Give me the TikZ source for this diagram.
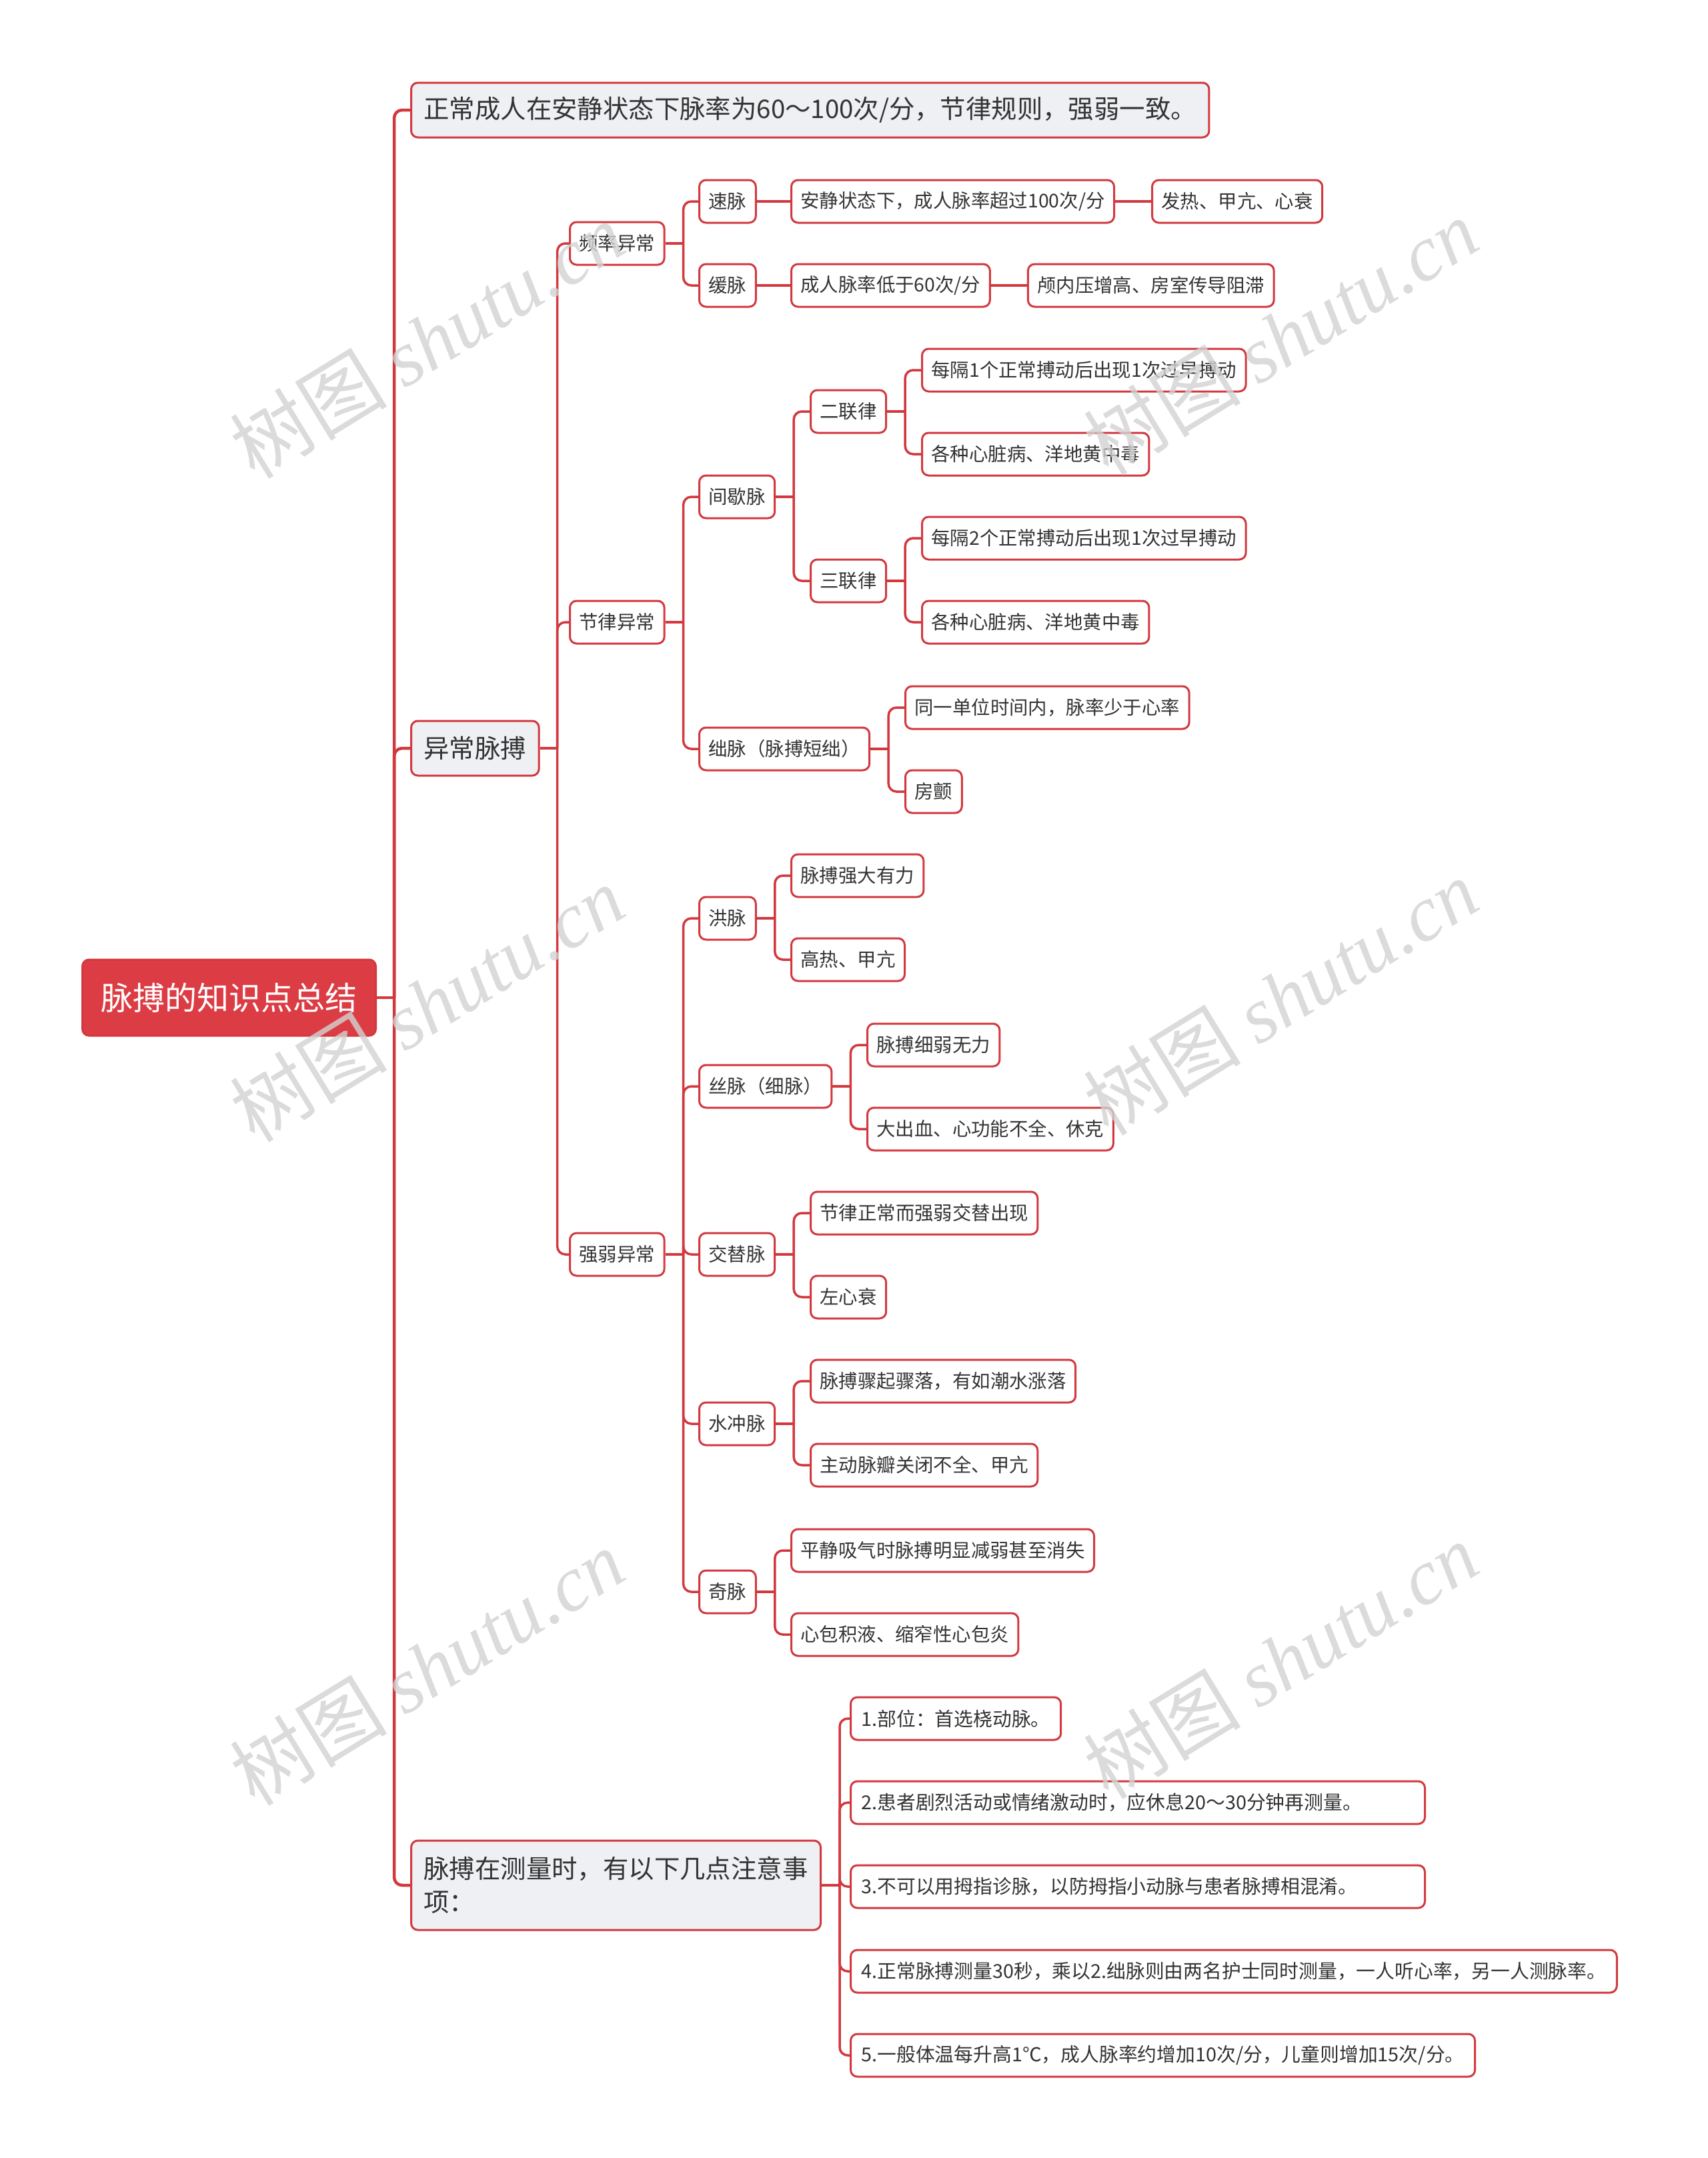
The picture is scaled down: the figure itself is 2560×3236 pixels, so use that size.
\documentclass[tikz,border=0pt]{standalone}
\usepackage{fontspec}
\setmainfont{Noto Sans CJK SC}
\newfontfamily\wmfont{Liberation Serif}
\usetikzlibrary{positioning}

\definecolor{linkred}{HTML}{D2393F}
\definecolor{rootred}{HTML}{DC3D45}
\definecolor{topicgray}{HTML}{EEF0F3}
\definecolor{inkgray}{HTML}{333333}

\tikzset{
  boxbase/.style={draw=linkred, line width=3pt, rounded corners=10pt,
    text=inkgray, anchor=west, inner ysep=0pt},
  rootbox/.style={boxbase, fill=rootred, text=white,
    font=\fontsize{48}{56}\selectfont, inner xsep=28pt, minimum height=114pt},
  topicbox/.style={boxbase, fill=topicgray,
    font=\fontsize{38.4}{50}\selectfont, inner xsep=19pt, minimum height=82pt},
  subbox/.style={boxbase, fill=white,
    font=\fontsize{28.4}{34}\selectfont, inner xsep=14pt, minimum height=64pt},
  notebox/.style={subbox, font=\fontsize{28.8}{34}\selectfont, inner xsep=16pt},
  link/.style={draw=linkred, line width=3.5pt, rounded corners=12pt},
  mainlink/.style={link, line width=4.5pt},
  wmark/.style={text=gray!35, text opacity=0.8, rotate=31.5,
    font=\fontsize{118}{118}\selectfont}
}

\begin{document}
\begin{tikzpicture}[x=1pt, y=-1pt]
  \useasboundingbox (0,0) rectangle (2560,3236);

  % Root and first level
  \node[rootbox] (root) at (122,1496) {脉搏的知识点总结};
  \node[topicbox] (t1) at (615,165) {正常成人在安静状态下脉率为60～100次/分，节律规则，强弱一致。};
  \node[topicbox] (t2) at (615,1122) {异常脉搏};
  \node[topicbox, align=left, minimum height=134pt] (t3) at (615,2827)
    {脉搏在测量时，有以下几点注意事\\项：};

  \coordinate (b0) at ([xshift=26pt]root.east);
  \draw[mainlink] (root) -- (b0);
  \foreach \c in {t1,t2,t3}
    \draw[mainlink] (b0) |- (\c.west);

  % Abnormal pulse
  \node[subbox] (a1) at (853,365) {频率异常};
  \node[subbox] (a2) at (853,933) {节律异常};
  \node[subbox] (a3) at (853,1881) {强弱异常};

  \coordinate (b1) at ([xshift=26pt]t2.east);
  \draw[link] (t2) -- (b1);
  \foreach \c in {a1,a2,a3}
    \draw[link] (b1) |- (\c.west);

  % Rate
  \node[subbox] (s1) at (1047,302) {速脉};
  \node[subbox] (s2) at (1047,428) {缓脉};
  \node[subbox] (d1) at (1185,302) {安静状态下，成人脉率超过100次/分};
  \node[subbox, right=54pt of d1] (e1) {发热、甲亢、心衰};
  \node[subbox] (d2) at (1185,428) {成人脉率低于60次/分};
  \node[subbox, right=54pt of d2] (e2) {颅内压增高、房室传导阻滞};

  \coordinate (ba1) at ([xshift=27pt]a1.east);
  \draw[link] (a1) -- (ba1);
  \foreach \c in {s1,s2}
    \draw[link] (ba1) |- (\c.west);
  \draw[link] (s1) -- (d1);
  \draw[link] (d1) -- (e1);
  \draw[link] (s2) -- (d2);
  \draw[link] (d2) -- (e2);

  % Rhythm
  \node[subbox] (j1) at (1047,745) {间歇脉};
  \node[subbox] (j2) at (1047,1123) {绌脉（脉搏短绌）};
  \node[subbox] (k1) at (1214,617) {二联律};
  \node[subbox] (k2) at (1214,871) {三联律};
  \node[subbox] (m1) at (1381,555) {每隔1个正常搏动后出现1次过早搏动};
  \node[subbox] (m2) at (1381,681) {各种心脏病、洋地黄中毒};
  \node[subbox] (m3) at (1381,807) {每隔2个正常搏动后出现1次过早搏动};
  \node[subbox] (m4) at (1381,933) {各种心脏病、洋地黄中毒};
  \node[subbox] (m5) at (1356,1061) {同一单位时间内，脉率少于心率};
  \node[subbox] (m6) at (1356,1187) {房颤};

  \coordinate (ba2) at ([xshift=27pt]a2.east);
  \draw[link] (a2) -- (ba2);
  \foreach \c in {j1,j2}
    \draw[link] (ba2) |- (\c.west);
  \coordinate (bj1) at ([xshift=27pt]j1.east);
  \draw[link] (j1) -- (bj1);
  \foreach \c in {k1,k2}
    \draw[link] (bj1) |- (\c.west);
  \coordinate (bk1) at ([xshift=27pt]k1.east);
  \draw[link] (k1) -- (bk1);
  \foreach \c in {m1,m2}
    \draw[link] (bk1) |- (\c.west);
  \coordinate (bk2) at ([xshift=27pt]k2.east);
  \draw[link] (k2) -- (bk2);
  \foreach \c in {m3,m4}
    \draw[link] (bk2) |- (\c.west);
  \coordinate (bj2) at ([xshift=27pt]j2.east);
  \draw[link] (j2) -- (bj2);
  \foreach \c in {m5,m6}
    \draw[link] (bj2) |- (\c.west);

  % Strength
  \node[subbox] (h1) at (1047,1377) {洪脉};
  \node[subbox] (h2) at (1047,1629) {丝脉（细脉）};
  \node[subbox] (h3) at (1047,1881) {交替脉};
  \node[subbox] (h4) at (1047,2135) {水冲脉};
  \node[subbox] (h5) at (1047,2387) {奇脉};
  \node[subbox] (p1) at (1185,1313) {脉搏强大有力};
  \node[subbox] (p2) at (1185,1439) {高热、甲亢};
  \node[subbox] (p3) at (1299,1567) {脉搏细弱无力};
  \node[subbox] (p4) at (1299,1693) {大出血、心功能不全、休克};
  \node[subbox] (p5) at (1214,1819) {节律正常而强弱交替出现};
  \node[subbox] (p6) at (1214,1945) {左心衰};
  \node[subbox] (p7) at (1214,2071) {脉搏骤起骤落，有如潮水涨落};
  \node[subbox] (p8) at (1214,2197) {主动脉瓣关闭不全、甲亢};
  \node[subbox] (p9) at (1185,2325) {平静吸气时脉搏明显减弱甚至消失};
  \node[subbox] (p10) at (1185,2451) {心包积液、缩窄性心包炎};

  \coordinate (ba3) at ([xshift=27pt]a3.east);
  \draw[link] (a3) -- (ba3);
  \foreach \c in {h1,h2,h3,h4,h5}
    \draw[link] (ba3) |- (\c.west);
  \foreach \h/\u/\v in {h1/p1/p2, h2/p3/p4, h3/p5/p6, h4/p7/p8, h5/p9/p10} {
    \coordinate (b\h) at ([xshift=27pt]\h.east);
    \draw[link] (\h) -- (b\h);
    \draw[link] (b\h) |- (\u.west);
    \draw[link] (b\h) |- (\v.west);
  }

  % Measuring notes
  \node[notebox] (n1) at (1274,2577) {1.部位：首选桡动脉。};
  \node[notebox, text width=829pt, align=left] (n2) at (1274,2703) {2.患者剧烈活动或情绪激动时，应休息20～30分钟再测量。};
  \node[notebox, text width=829pt, align=left] (n3) at (1274,2829) {3.不可以用拇指诊脉，以防拇指小动脉与患者脉搏相混淆。};
  \node[notebox] (n4) at (1274,2956) {4.正常脉搏测量30秒，乘以2.绌脉则由两名护士同时测量，一人听心率，另一人测脉率。};
  \node[notebox] (n5) at (1274,3082) {5.一般体温每升高1℃，成人脉率约增加10次/分，儿童则增加15次/分。};

  \coordinate (bt3) at ([xshift=27pt]t3.east);
  \draw[link] (t3) -- (bt3);
  \foreach \c in {n1,n2,n3,n4,n5}
    \draw[link] (bt3) |- (\c.west);

  % Watermarks
  \foreach \x/\y [count=\i] in {640/510, 1920/505, 640/1505, 1920/1495, 640/2500, 1920/2490}
    \node[wmark] (w\i) at (\x,\y) {树图 {\wmfont\itshape shutu.cn}};
\end{tikzpicture}
\end{document}
